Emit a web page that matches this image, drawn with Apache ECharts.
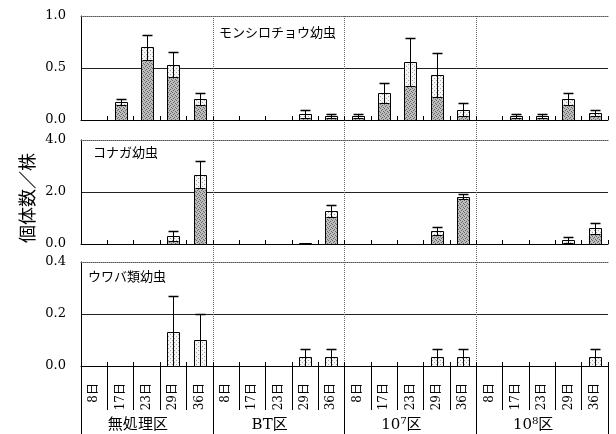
<!DOCTYPE html>
<html>
<head>
<meta charset="utf-8">
<script src="https://cdn.jsdelivr.net/npm/echarts@6/dist/echarts.min.js"></script>
<style>
  html, body { margin: 0; padding: 0; background: #fff; }
  #chart { width: 616px; height: 434px; }
</style>
</head>
<body>
<div id="chart"></div>
<script>
// Survey days and treatment plots
const dates = ['8日', '17日', '23日', '29日', '36日'];
const groups = ['無処理区', 'BT区', '10⁷区', '10⁸区'];

// Mean larvae per plant and standard error, in plot order (5 days per plot)
const monshiroMean = [0, 0.17, 0.70, 0.53, 0.20,  0, 0, 0, 0.06, 0.04,  0.04, 0.26, 0.56, 0.43, 0.10,  0, 0.04, 0.04, 0.20, 0.07];
const monshiroSE   = [0, 0.03, 0.12, 0.12, 0.06,  0, 0, 0, 0.04, 0.02,  0.02, 0.10, 0.23, 0.21, 0.06,  0, 0.02, 0.02, 0.06, 0.03];

const konagaMean = [0, 0, 0, 0.30, 2.66,  0, 0, 0, 0.03, 1.27,  0, 0, 0, 0.50, 1.82,  0, 0, 0, 0.16, 0.60];
const konagaSE   = [0, 0, 0, 0.20, 0.52,  0, 0, 0, 0,    0.23,  0, 0, 0, 0.15, 0.09,  0, 0, 0, 0.12, 0.22];

const uwabaMean = [0, 0, 0, 0.13, 0.10,  0, 0, 0, 0.033, 0.033,  0, 0, 0, 0.033, 0.033,  0, 0, 0, 0, 0.033];
const uwabaSE   = [0, 0, 0, 0.14, 0.10,  0, 0, 0, 0.033, 0.033,  0, 0, 0, 0.033, 0.033,  0, 0, 0, 0, 0.033];

// Y axis ranges per panel
const yMax = [1.0, 4.0, 0.4];
const yStep = [0.5, 2.0, 0.2];
const panelNames = ['モンシロチョウ幼虫', 'コナガ幼虫', 'ウワバ類幼虫'];

const categories = [];
groups.forEach(() => dates.forEach(d => categories.push(d)));

// Stippled fills
function stipple(bg, dot, pts, size) {
  const c = document.createElement('canvas');
  c.width = c.height = size;
  const g = c.getContext('2d');
  g.fillStyle = bg; g.fillRect(0, 0, size, size);
  g.fillStyle = dot;
  pts.forEach(p => g.fillRect(p[0], p[1], 1, 1));
  return { image: c, repeat: 'repeat' };
}
const denseFill = stipple('#bdbdbd', '#666666', [[0,0],[2,1],[1,2],[3,3]], 4);
const lightFill = stipple('#f4f4f4', '#a6a6a6', [[0,0],[2,2]], 4);

const SERIF = "'DejaVu Serif', 'Noto Sans CJK JP', serif";
const CJK = "'Noto Sans CJK JP', sans-serif";

// Bar with error bar; the part of the bar inside the error range is lighter
function renderBar(params, api) {
  const idx = api.value(0), v = api.value(1), e = api.value(2);
  if (!(v > 0)) return { type: 'group', children: [] };
  const w = 12, cap = 10;
  const p0 = api.coord([idx, 0]);
  const pv = api.coord([idx, v]);
  const cx = Math.round(p0[0]) + 0.5;
  const x = cx - w / 2;
  const yb = Math.round(p0[1]) + 0.5;
  const yt = Math.round(pv[1]) + 0.5;
  const children = [];
  children.push({ type: 'rect', shape: { x: x, y: yt, width: w, height: yb - yt }, style: { fill: denseFill } });
  if (e > 0) {
    const lo = Math.max(0, v - e);
    const yl = Math.round(api.coord([idx, lo])[1]) + 0.5;
    const yh = Math.round(api.coord([idx, v + e])[1]) + 0.5;
    children.push({ type: 'rect', shape: { x: x, y: yt, width: w, height: yl - yt }, style: { fill: lightFill } });
    children.push({ type: 'rect', shape: { x: x, y: yt, width: w, height: yb - yt }, style: { fill: 'none', stroke: '#000', lineWidth: 1 } });
    children.push({ type: 'line', shape: { x1: cx, y1: yh, x2: cx, y2: yl }, style: { stroke: '#000', lineWidth: 1 } });
    children.push({ type: 'line', shape: { x1: cx - cap / 2, y1: yh, x2: cx + cap / 2, y2: yh }, style: { stroke: '#000', lineWidth: 1.5 } });
    if (lo > 0) {
      children.push({ type: 'line', shape: { x1: cx - cap / 2, y1: yl, x2: cx + cap / 2, y2: yl }, style: { stroke: '#000', lineWidth: 1 } });
    }
  } else {
    children.push({ type: 'rect', shape: { x: x, y: yt, width: w, height: yb - yt }, style: { fill: 'none', stroke: '#000', lineWidth: 1 } });
  }
  return { type: 'group', children: children };
}

const LEFT = 81, RIGHT = 8, H = 104;
const tops = [16, 140, 262];

const grid = tops.map(t => ({ left: LEFT, right: RIGHT, top: t, height: H, outerBoundsMode: 'none' }));
// full-height grid holding the dotted plot separators
grid.push({ left: LEFT, right: RIGHT, top: 16, height: 350, outerBoundsMode: 'none' });

const xAxis = [];
const yAxis = [];
const series = [];
const means = [monshiroMean, konagaMean, uwabaMean];
const ses = [monshiroSE, konagaSE, uwabaSE];

tops.forEach((t, k) => {
  // baseline with small inward ticks
  xAxis.push({
    type: 'category', gridIndex: k, data: categories, position: 'bottom',
    axisLine: { show: true, lineStyle: { color: '#000', width: 1 } },
    axisTick: { show: true, inside: true, length: 4, interval: 0, lineStyle: { color: '#000' } },
    axisLabel: { show: false }, splitLine: { show: false }
  });
  // dotted top border
  xAxis.push({
    type: 'category', gridIndex: k, data: categories, position: 'top',
    axisLine: { show: true, lineStyle: { color: '#555', type: 'dotted', width: 1 } },
    axisTick: { show: false }, axisLabel: { show: false }
  });
  yAxis.push({
    type: 'value', gridIndex: k, min: 0, max: yMax[k], interval: yStep[k],
    axisLine: { show: true, lineStyle: { color: '#000', width: 1 } },
    axisTick: { show: false },
    axisLabel: { color: '#000', fontFamily: SERIF, fontSize: 13, margin: 15, formatter: v => v.toFixed(1) },
    splitLine: { show: true, showMinLine: false, showMaxLine: false, lineStyle: { color: '#222', width: 1 } }
  });
  series.push({
    type: 'custom', xAxisIndex: k * 2, yAxisIndex: k,
    data: means[k].map((m, i) => [i, m, ses[k][i]]),
    encode: { x: 0, y: 1 },
    renderItem: renderBar, silent: true, z: 5
  });
});

// date labels and their separators below the bottom panel
xAxis.push({
  type: 'category', gridIndex: 2, data: categories, position: 'bottom',
  axisLine: { show: false },
  axisTick: { show: true, length: 44, interval: 0, lineStyle: { color: '#000' } },
  axisLabel: { show: true, interval: 0, rotate: 90, margin: 17, color: '#000', fontFamily: SERIF, fontSize: 12 }
});
// plot names and their separators
xAxis.push({
  type: 'category', gridIndex: 2, data: groups, position: 'bottom',
  axisLine: { show: false },
  axisTick: { show: true, length: 70, interval: 0, lineStyle: { color: '#000' } },
  axisLabel: { show: true, interval: 0, margin: 52, color: '#000', fontFamily: SERIF, fontSize: 15, padding: [0, 18, 0, 0] }
});
// dotted vertical separators across all panels
xAxis.push({
  type: 'value', gridIndex: 3, min: 0, max: categories.length, interval: dates.length,
  axisLine: { show: false }, axisTick: { show: false }, axisLabel: { show: false },
  splitLine: { show: true, showMinLine: false, showMaxLine: false, lineStyle: { color: '#666', type: 'dotted', width: 1 } }
});
yAxis.push({ type: 'value', gridIndex: 3, min: 0, max: 1, show: false });

const graphic = [
  { type: 'text', x: 219, y: 32, style: { text: panelNames[0], fontFamily: CJK, fontSize: 13, fill: '#000', verticalAlign: 'middle' } },
  { type: 'text', x: 93, y: 152, style: { text: panelNames[1], fontFamily: CJK, fontSize: 13, fill: '#000', verticalAlign: 'middle' } },
  { type: 'text', x: 88, y: 276, style: { text: panelNames[2], fontFamily: CJK, fontSize: 13, fill: '#000', verticalAlign: 'middle' } },
  // axis title, reading bottom to top
  { type: 'text', x: 27, y: 198, rotation: Math.PI / 2,
    style: { text: '個体数／株', fontFamily: CJK, fontSize: 18, fill: '#000', align: 'center', verticalAlign: 'middle' } }
];

const chart = echarts.init(document.getElementById('chart'), null, { renderer: 'canvas' });
chart.setOption({
  animation: false,
  backgroundColor: '#fff',
  grid: grid,
  xAxis: xAxis,
  yAxis: yAxis,
  series: series,
  graphic: graphic
});
</script>
</body>
</html>
